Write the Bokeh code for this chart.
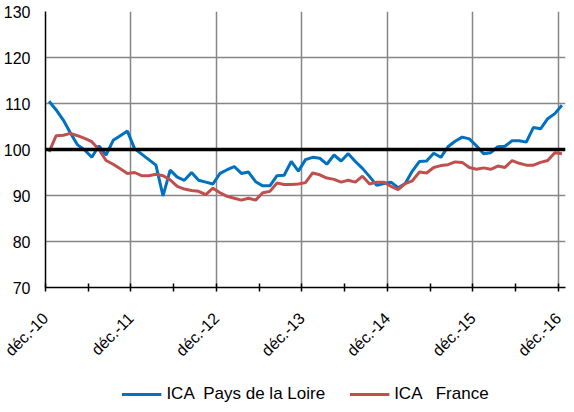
import math
from bokeh.plotting import figure
from bokeh.layouts import column
from bokeh.models import FixedTicker, Span, Legend, LegendItem, Range1d
from bokeh.embed import file_html
from bokeh.resources import INLINE

# Monthly index values, déc. 2010 -> déc. 2016 (73 months)
ica_pays_de_la_loire = [
    110.5, 108.6, 106.4, 103.6, 101.0, 99.9, 98.3, 100.8, 98.8, 102.0, 103.0, 104.0,
    100.2, 99.0, 97.8, 96.6, 89.9, 95.5, 94.0, 93.3, 95.0, 93.3, 92.9, 92.5,
    94.8, 95.6, 96.3, 94.8, 95.1, 93.0, 92.1, 92.1, 94.3, 94.4, 97.4, 95.3,
    97.8, 98.3, 98.1, 96.8, 98.8, 97.5, 99.1, 97.4, 95.9, 94.1, 92.2, 92.6,
    92.9, 91.7, 92.6, 95.3, 97.4, 97.5, 99.2, 98.3, 100.6, 101.8, 102.7, 102.3,
    100.8, 99.1, 99.3, 100.6, 100.7, 101.9, 101.9, 101.6, 104.8, 104.5, 106.7, 107.8,
    109.6,
]
ica_france = [
    99.5, 103.0, 103.1, 103.5, 103.0, 102.4, 101.7, 100.0, 97.6, 96.8, 95.8, 94.8,
    95.0, 94.3, 94.3, 94.6, 94.3, 93.4, 92.0, 91.4, 91.1, 90.9, 90.2, 91.6,
    90.6, 89.8, 89.4, 89.0, 89.4, 89.0, 90.6, 90.9, 92.7, 92.4, 92.4, 92.5,
    92.8, 94.9, 94.5, 93.8, 93.5, 92.9, 93.3, 92.9, 94.2, 92.5, 92.9, 92.9,
    92.0, 91.3, 92.6, 93.2, 95.1, 94.9, 96.1, 96.5, 96.7, 97.3, 97.2, 96.1,
    95.7, 96.0, 95.7, 96.4, 96.1, 97.6, 97.0, 96.6, 96.6, 97.2, 97.6, 99.3,
    99.1,
]
x_tick_labels = ["déc.-10", "déc.-11", "déc.-12", "déc.-13", "déc.-14", "déc.-15", "déc.-16"]
y_ticks = [70, 80, 90, 100, 110, 120, 130]
reference_level = 100
series_names = ["ICA  Pays de la Loire", "ICA   France"]
series_colors = ["#0070C0", "#C0504D"]

n = len(ica_france)
xs = [i + 0.5 for i in range(n)]
major = [12 * k for k in range(len(x_tick_labels))]
minor = [12 * k + 6 for k in range(len(x_tick_labels) - 1)]

FONT = "Liberation Sans"

p = figure(width=566, height=374, output_backend="svg", toolbar_location=None,
           x_range=Range1d(0, n), y_range=Range1d(y_ticks[0], y_ticks[-1]),
           min_border_left=44, min_border_right=1, min_border_top=11,
           min_border_bottom=87)
p.outline_line_color = None
p.background_fill_color = "white"

# grids
p.xgrid.ticker = FixedTicker(ticks=major)
p.ygrid.ticker = FixedTicker(ticks=y_ticks)
for g in (p.xgrid, p.ygrid):
    g.grid_line_color = "#868686"
    g.grid_line_width = 1.5

# x axis
xa = p.xaxis[0]
xa.ticker = FixedTicker(ticks=major, minor_ticks=minor)
xa.major_label_overrides = {m: lab for m, lab in zip(major, x_tick_labels)}
xa.major_label_orientation = math.pi / 4
xa.major_tick_in = 4
xa.major_tick_out = 4
xa.minor_tick_in = 4
xa.minor_tick_out = 4
xa.axis_line_width = 1.5
xa.major_tick_line_width = 1.5
xa.minor_tick_line_width = 1.5
xa.major_label_standoff = 24
xa.major_label_text_font = FONT
xa.major_label_text_font_size = "16px"
xa.major_label_text_color = "black"

# y axis
ya = p.yaxis[0]
ya.ticker = FixedTicker(ticks=y_ticks)
ya.major_tick_in = 0
ya.major_tick_out = 0
ya.minor_tick_line_color = None
ya.axis_line_width = 1.5
ya.major_label_standoff = 15
ya.major_label_text_font = FONT
ya.major_label_text_font_size = "16px"
ya.major_label_text_color = "black"

p.line(xs, ica_pays_de_la_loire, line_color=series_colors[0], line_width=3)
p.line(xs, ica_france, line_color=series_colors[1], line_width=3)

p.add_layout(Span(location=reference_level, dimension="width",
                  line_color="black", line_width=3.5))

# legend strip below the chart (series re-drawn outside its visible range, only as keys)
leg = figure(width=566, height=30, output_backend="svg", toolbar_location=None,
             x_range=Range1d(0, n), y_range=Range1d(0, 1),
             x_axis_location=None, y_axis_location=None,
             min_border_left=28, min_border_right=0,
             min_border_top=0, min_border_bottom=0)
leg.outline_line_color = None
leg.xgrid.visible = False
leg.ygrid.visible = False
key_blue = leg.line(xs, ica_pays_de_la_loire, line_color=series_colors[0], line_width=3)
key_red = leg.line(xs, ica_france, line_color=series_colors[1], line_width=3)
legend = Legend(items=[LegendItem(label=series_names[0], renderers=[key_blue]),
                       LegendItem(label=series_names[1], renderers=[key_red])],
                orientation="horizontal", location="bottom_center",
                padding=0, margin=0, spacing=24, label_standoff=5,
                glyph_width=40, glyph_height=20, label_height=20,
                border_line_color=None, background_fill_alpha=0,
                label_text_font=FONT, label_text_font_size="17px",
                label_text_color="black")
leg.add_layout(legend, "center")

open("out.html", "w").write(file_html(column(p, leg, spacing=0), INLINE))
